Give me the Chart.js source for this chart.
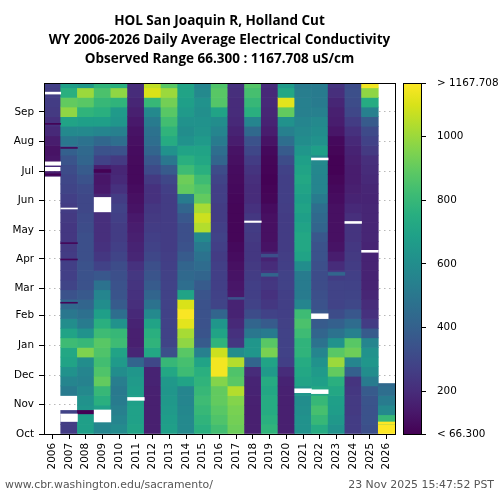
<!DOCTYPE html>
<html><head><meta charset="utf-8">
<script src="https://cdn.jsdelivr.net/npm/chart.js@4/dist/chart.umd.min.js"></script>
<style>
html,body{margin:0;padding:0;background:#fff;}
#wrap{position:relative;width:500px;height:500px;background:#fff;}
#main{position:absolute;left:0;top:0;}
#cbar{position:absolute;left:395px;top:0;}
</style></head><body>
<div id="wrap"><canvas id="main" width="500" height="500"></canvas><canvas id="cbar" width="105" height="500"></canvas></div>
<script>
// ---------- data ----------
const years = [2006,2007,2008,2009,2010,2011,2012,2013,2014,2015,2016,2017,2018,2019,2020,2021,2022,2023,2024,2025,2026];
const monthLabels = ['Oct','Nov','Dec','Jan','Feb','Mar','Apr','May','Jun','Jul','Aug','Sep'];
const monthStarts = [0,31,61,92,123,151,182,212,243,273,304,335];
const binDays = 10;          // each value below = mean EC over a 10-day block of the water year
const yearDays = 365;

const wy2006 = [null,null,null,null,null,null,null,null,null,null,null,null,null,null,null,null,null,null,null,null,null,null,null,null,null,null,null,null,130,120,150,190,220,250,260,265,270];
const wy2007 = [260,260,null,null,520,560,620,700,720,820,700,600,500,440,340,290,270,270,260,250,240,240,250,260,270,290,300,320,350,400,500,580,700,980,900,760,680];
const wy2008 = [680,680,640,620,580,550,560,600,950,800,620,520,470,420,370,340,340,340,330,330,330,320,310,300,300,310,340,380,420,440,480,580,680,780,880,1000,650];
const wy2009 = [560,560,690,760,800,900,860,830,860,880,820,760,680,600,560,480,360,280,240,220,210,210,210,200,180,140,130,150,280,340,430,560,680,760,800,850,780];
const wy2010 = [590,560,540,520,510,530,600,660,700,820,800,620,460,380,350,340,330,320,290,270,260,260,270,280,260,220,190,180,250,340,460,540,640,660,780,980,760];
const wy2011 = [700,690,690,680,670,660,640,420,180,160,160,170,190,210,220,230,240,220,180,170,160,150,140,120,110,100,90,90,95,100,110,120,140,160,180,200,200];
const wy2012 = [160,160,160,160,165,170,170,300,720,780,760,700,580,480,420,380,350,330,300,280,270,260,250,240,220,220,250,310,360,420,460,480,520,580,800,1100,1060];
const wy2013 = [680,670,660,650,640,650,720,800,330,290,280,280,280,280,280,280,275,270,265,260,260,260,260,260,260,270,300,380,500,620,740,780,830,880,930,1000,880];
const wy2014 = [580,580,570,560,560,700,820,840,880,980,1020,1120,1160,1100,700,460,440,420,380,340,330,330,360,420,520,900,920,820,760,700,620,600,620,660,680,700,700];
const wy2015 = [760,780,800,820,800,780,760,700,540,380,350,340,340,340,350,380,420,450,480,520,580,1040,1080,1020,900,860,820,760,720,700,660,630,620,610,620,580,560];
const wy2016 = [830,860,880,900,900,960,1150,1150,1080,780,700,640,420,290,280,270,270,270,260,270,280,270,260,260,270,270,290,320,420,460,520,560,600,700,870,880,860];
const wy2017 = [920,930,940,960,1040,880,860,1040,600,240,220,190,170,170,140,130,120,110,100,90,80,80,80,80,85,90,95,100,110,120,150,170,190,200,200,210,220];
const wy2018 = [160,160,160,165,170,175,200,420,640,640,500,420,320,280,270,270,260,250,240,240,250,260,240,220,200,200,210,230,260,300,340,440,560,760,800,840,870];
const wy2019 = [780,760,740,740,720,740,660,700,940,880,520,380,280,240,220,240,230,200,170,120,110,110,110,100,80,75,70,75,80,90,120,150,170,180,190,190,200];
const wy2020 = [160,160,160,160,165,170,200,270,280,280,280,275,270,270,270,280,280,270,265,260,260,260,260,265,270,270,270,280,320,380,460,540,620,900,1120,720,660];
const wy2021 = [620,620,610,600,640,700,720,740,780,780,820,850,820,560,520,520,520,600,700,720,720,700,680,700,680,700,720,700,680,640,600,580,560,540,540,530,520];
const wy2022 = [740,800,840,800,720,680,660,620,560,480,420,380,360,340,330,320,320,330,340,340,360,420,440,460,520,560,560,570,580,680,620,600,580,540,520,520,520];
const wy2023 = [620,650,670,680,720,760,900,1000,880,620,480,400,320,285,285,285,260,200,150,120,110,110,110,110,100,90,80,70,70,80,90,130,150,160,180,210,230];
const wy2024 = [260,260,250,250,240,230,400,560,920,880,540,450,360,300,290,280,270,260,250,240,230,230,210,190,170,160,150,150,160,170,190,220,260,300,320,330,320];
const wy2025 = [330,340,340,350,380,520,600,640,620,560,380,260,220,200,180,170,170,170,170,175,180,180,180,180,175,180,190,200,210,250,280,310,380,540,740,980,1150];
const wy2026 = [1168,800,580,520,460,null,null,null,null,null,null,null,null,null,null,null,null,null,null,null,null,null,null,null,null,null,null,null,null,null,null,null,null,null,null,null,null];
const series = [wy2006,wy2007,wy2008,wy2009,wy2010,wy2011,wy2012,wy2013,wy2014,wy2015,wy2016,wy2017,wy2018,wy2019,wy2020,wy2021,wy2022,wy2023,wy2024,wy2025,wy2026];

// short runs of days: [year, firstDay, lastDay, EC]
const spikeDays = [
  [2006,268,273,160],[2006,269,270.5,70],[2006,278,279.5,190],[2006,322,323,70],
  [2007,21,24.5,280],[2007,136,137,80],[2007,181,182,80],[2007,198,199,80],[2007,297,298,80],
  [2008,21,24.5,66],
  [2009,272,275,70],
  [2017,140,142,340],
  [2019,164,167,420],[2019,184,187,330],
  [2023,165,168,420],
  [2026,10,12.5,1168],[2026,50,52.5,440]
];
// missing days: [year, firstDay, lastDay]
const gapDays = [
  [2006,279.5,283],[2006,353.5,355.5],
  [2007,13,20.8],[2007,234,235],
  [2009,12.5,25],[2009,231,246],
  [2011,35,38],
  [2018,220,221.5],
  [2021,43,47],
  [2022,42,46],[2022,120,125],[2022,285,287],
  [2024,219,221],
  [2025,189,191]
];

const ecMin = 66.3, ecMax = 1167.708;
const cbTicks = [66.3,200,400,600,800,1000,1167.708];
const cbLabels = ['< 66.300','200','400','600','800','1000','> 1167.708'];
const titleLines = ['HOL San Joaquin R, Holland Cut','WY 2006-2026 Daily Average Electrical Conductivity','Observed Range 66.300 : 1167.708 uS/cm'];
const footLeft = 'www.cbr.washington.edu/sacramento/';
const footRight = '23 Nov 2025 15:47:52 PST';

// ---------- colour map ----------
const VIRIDIS = ['#440154','#48186a','#472d7b','#424086','#3b528b','#33638d','#2c728e','#26828e','#21918c','#1fa088','#28ae80','#3fbc73','#5ec962','#84d44b','#addc30','#d8e219','#fde725'];
function hx(h){return [parseInt(h.slice(1,3),16),parseInt(h.slice(3,5),16),parseInt(h.slice(5,7),16)];}
function viridis(t){
  t = Math.max(0, Math.min(1, t));
  const n = VIRIDIS.length - 1;
  const i = Math.min(n - 1, Math.floor(t * n));
  const f = t * n - i;
  const a = hx(VIRIDIS[i]), b = hx(VIRIDIS[i + 1]);
  return 'rgb(' + a.map((c, j) => Math.round(c + (b[j] - c) * f)).join(',') + ')';
}
function ecColor(v){ return v == null ? '#ffffff' : viridis((v - ecMin) / (ecMax - ecMin)); }

// ---------- cells ----------
const cells = [];
series.forEach((arr, yi) => arr.forEach((v, k) => {
  if (v === null) return;
  cells.push({x: String(years[yi]), y: [k * binDays, Math.min((k + 1) * binDays, yearDays)], v: v});
}));
spikeDays.forEach(([yr, a, b, v]) => cells.push({x: String(yr), y: [a, b], v: v}));
gapDays.forEach(([yr, a, b]) => cells.push({x: String(yr), y: [a, b], v: null}));

const tickFont = {family: 'DejaVu Sans', size: 10.4};

const framePlugin = {
  id: 'frame',
  afterDraw(chart) {
    const {ctx, chartArea: ca} = chart;
    ctx.save();
    ctx.strokeStyle = '#000';
    ctx.lineWidth = 1;
    ctx.strokeRect(Math.round(ca.left) + 0.5, Math.round(ca.top) + 0.5, Math.round(ca.right - ca.left), Math.round(ca.bottom - ca.top));
    ctx.font = '10.9px "DejaVu Sans"';
    ctx.fillStyle = '#555';
    ctx.textBaseline = 'middle';
    ctx.textAlign = 'left';
    ctx.fillText(footLeft, 5, 485);
    ctx.textAlign = 'right';
    ctx.fillText(footRight, 494, 485);
    ctx.restore();
  }
};

new Chart(document.getElementById('main'), {
  type: 'bar',
  data: {
    labels: years.map(String),
    datasets: [{
      data: cells,
      backgroundColor: c => (c.raw ? ecColor(c.raw.v) : '#fff'),
      borderWidth: 0,
      barPercentage: 1,
      categoryPercentage: 1,
      grouped: false
    }]
  },
  options: {
    responsive: false,
    animation: false,
    events: [],
    layout: {padding: {left: 0, right: 105, top: 0, bottom: 21}},
    plugins: {
      legend: {display: false},
      tooltip: {enabled: false},
      title: {
        display: true, fullSize: false, text: titleLines, color: '#000',
        font: {family: 'Open Sans', size: 13.5, weight: 'bold', lineHeight: 19 / 13.5},
        padding: {top: 12, bottom: 14}
      }
    },
    scales: {
      x: {
        type: 'category', offset: true, z: 1,
        afterFit: s => { s.height = 45; },
        grid: {display: true, drawOnChartArea: false, drawTicks: true, tickLength: 5, tickColor: '#000', offset: false},
        border: {display: false},
        ticks: {autoSkip: false, maxRotation: 90, minRotation: 90, padding: 4, color: '#000', font: tickFont}
      },
      y: {
        type: 'linear', min: 0, max: yearDays, z: 1,
        afterFit: s => { s.width = 44; },
        afterBuildTicks: s => { s.ticks = monthStarts.map(v => ({value: v})); },
        grid: {color: 'rgba(0,0,0,0.28)', lineWidth: 1, tickLength: 5, tickColor: '#000', tickBorderDash: []},
        border: {display: false, dash: [1.5, 3.5]},
        ticks: {autoSkip: false, padding: 5, color: '#000', font: tickFont, callback: (v, i) => monthLabels[i]}
      }
    }
  },
  plugins: [framePlugin]
});

// ---------- colour bar ----------
const gradPlugin = {
  id: 'grad',
  beforeDatasetsDraw(chart) {
    const {ctx, chartArea: ca, scales} = chart;
    const ys = scales.y;
    const y0 = ys.getPixelForValue(ecMin), y1 = ys.getPixelForValue(ecMax);
    const g = ctx.createLinearGradient(0, y0, 0, y1);
    VIRIDIS.forEach((c, i) => g.addColorStop(i / (VIRIDIS.length - 1), c));
    ctx.save();
    ctx.fillStyle = g;
    ctx.fillRect(ca.left, ca.top, ca.right - ca.left, ca.bottom - ca.top);
    ctx.strokeStyle = '#000';
    ctx.lineWidth = 1;
    ctx.strokeRect(Math.round(ca.left) + 0.5, Math.round(ca.top) + 0.5, Math.round(ca.right - ca.left), Math.round(ca.bottom - ca.top));
    ctx.restore();
  }
};

new Chart(document.getElementById('cbar'), {
  type: 'bar',
  data: {labels: [''], datasets: [{data: []}]},
  options: {
    responsive: false,
    animation: false,
    events: [],
    layout: {padding: {left: 8, right: 0, top: 83, bottom: 66}},
    plugins: {legend: {display: false}, tooltip: {enabled: false}},
    scales: {
      x: {display: false},
      y: {
        type: 'linear', position: 'right', min: ecMin, max: ecMax,
        afterFit: s => { s.width = 79; },
        afterBuildTicks: s => { s.ticks = cbTicks.map(v => ({value: v})); },
        grid: {drawOnChartArea: false, tickLength: 5, tickColor: '#000'},
        border: {display: false},
        ticks: {autoSkip: false, padding: 11, color: '#000', font: tickFont, callback: (v, i) => cbLabels[i]}
      }
    }
  },
  plugins: [gradPlugin]
});
</script>
</body></html>
